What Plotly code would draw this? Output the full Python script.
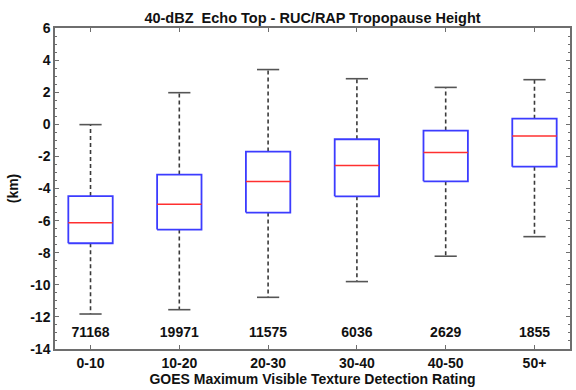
import plotly.graph_objects as go

categories = ["0-10", "10-20", "20-30", "30-40", "40-50", "50+"]
counts = ["71168", "19971", "11575", "6036", "2629", "1855"]
whisker_low = [-11.82, -11.55, -10.78, -9.8, -8.22, -7.0]
q1 = [-7.41, -6.56, -5.5, -4.49, -3.55, -2.64]
median = [-6.13, -4.98, -3.56, -2.57, -1.76, -0.73]
q3 = [-4.47, -3.13, -1.70, -0.93, -0.39, 0.35]
whisker_high = [-0.02, 1.97, 3.41, 2.84, 2.3, 2.78]

BOX_HALF = 0.25
CAP_HALF = 0.125
count_y = -13.05

fig = go.Figure()

xs_pos = list(range(1, len(categories) + 1))

# whiskers (dashed)
wx, wy = [], []
for i, x in enumerate(xs_pos):
    wx += [x, x, None, x, x, None]
    wy += [q3[i], whisker_high[i], None, q1[i], whisker_low[i], None]
fig.add_trace(go.Scatter(x=wx, y=wy, mode="lines",
                         line=dict(color="#3a3a3a", width=1.6, dash="4px,3px"),
                         hoverinfo="skip", showlegend=False))
# caps
cx, cy = [], []
for i, x in enumerate(xs_pos):
    cx += [x - CAP_HALF, x + CAP_HALF, None, x - CAP_HALF, x + CAP_HALF, None]
    cy += [whisker_high[i], whisker_high[i], None, whisker_low[i], whisker_low[i], None]
fig.add_trace(go.Scatter(x=cx, y=cy, mode="lines",
                         line=dict(color="#555555", width=1.6),
                         hoverinfo="skip", showlegend=False))
# boxes
bx, by = [], []
for i, x in enumerate(xs_pos):
    bx += [x - BOX_HALF, x + BOX_HALF, x + BOX_HALF, x - BOX_HALF, x - BOX_HALF, None]
    by += [q1[i], q1[i], q3[i], q3[i], q1[i], None]
fig.add_trace(go.Scatter(x=bx, y=by, mode="lines",
                         line=dict(color="#3c3cff", width=1.8),
                         hoverinfo="skip", showlegend=False))
# medians
mx, my = [], []
for i, x in enumerate(xs_pos):
    mx += [x - BOX_HALF, x + BOX_HALF, None]
    my += [median[i], median[i], None]
fig.add_trace(go.Scatter(x=mx, y=my, mode="lines",
                         line=dict(color="#ff3030", width=1.4),
                         hoverinfo="skip", showlegend=False))
# counts
fig.add_trace(go.Scatter(x=xs_pos, y=[count_y] * len(xs_pos), mode="text",
                         text=counts,
                         textfont=dict(family="Liberation Sans", size=14, color="#111111", weight="bold"),
                         hoverinfo="skip", showlegend=False))

axis_color = "#6e6e6e"
fig.update_layout(
    width=576, height=390,
    margin=dict(l=55, r=4, t=28, b=41),
    paper_bgcolor="white", plot_bgcolor="white",
    font=dict(family="Liberation Sans", size=14, color="#111111"),
    title=dict(text="<b>40-dBZ  Echo Top - RUC/RAP Tropopause Height</b>",
               x=0.5, xref="paper", y=0.955, yref="container",
               xanchor="center", yanchor="middle",
               font=dict(size=14.5, color="#111111")),
    xaxis=dict(range=[0.6, 6.4], tickvals=xs_pos,
               ticktext=[f"<b>{c}</b>" for c in categories],
               showgrid=False, zeroline=False, showline=True, linecolor=axis_color,
               linewidth=1.5, mirror="ticks", ticks="inside", ticklen=4,
               tickcolor=axis_color, tickwidth=1,
               title=dict(text="<b>GOES Maximum Visible Texture Detection Rating</b>",
                          standoff=4, font=dict(size=14))),
    yaxis=dict(range=[-14, 6],
               tickvals=list(range(-14, 7, 2)),
               ticktext=[f"<b>{v}</b>" for v in range(-14, 7, 2)],
               showgrid=False, zeroline=False, showline=True, linecolor=axis_color,
               linewidth=1.5, mirror="ticks", ticks="inside", ticklen=4,
               tickcolor=axis_color, tickwidth=1,
               minor=dict(dtick=0.5, tick0=0, ticks="inside", ticklen=2,
                          tickcolor=axis_color, tickwidth=1, showgrid=False),
               title=dict(text="<b>(km)</b>", standoff=8, font=dict(size=14))),
)

fig.write_html("out.html")
